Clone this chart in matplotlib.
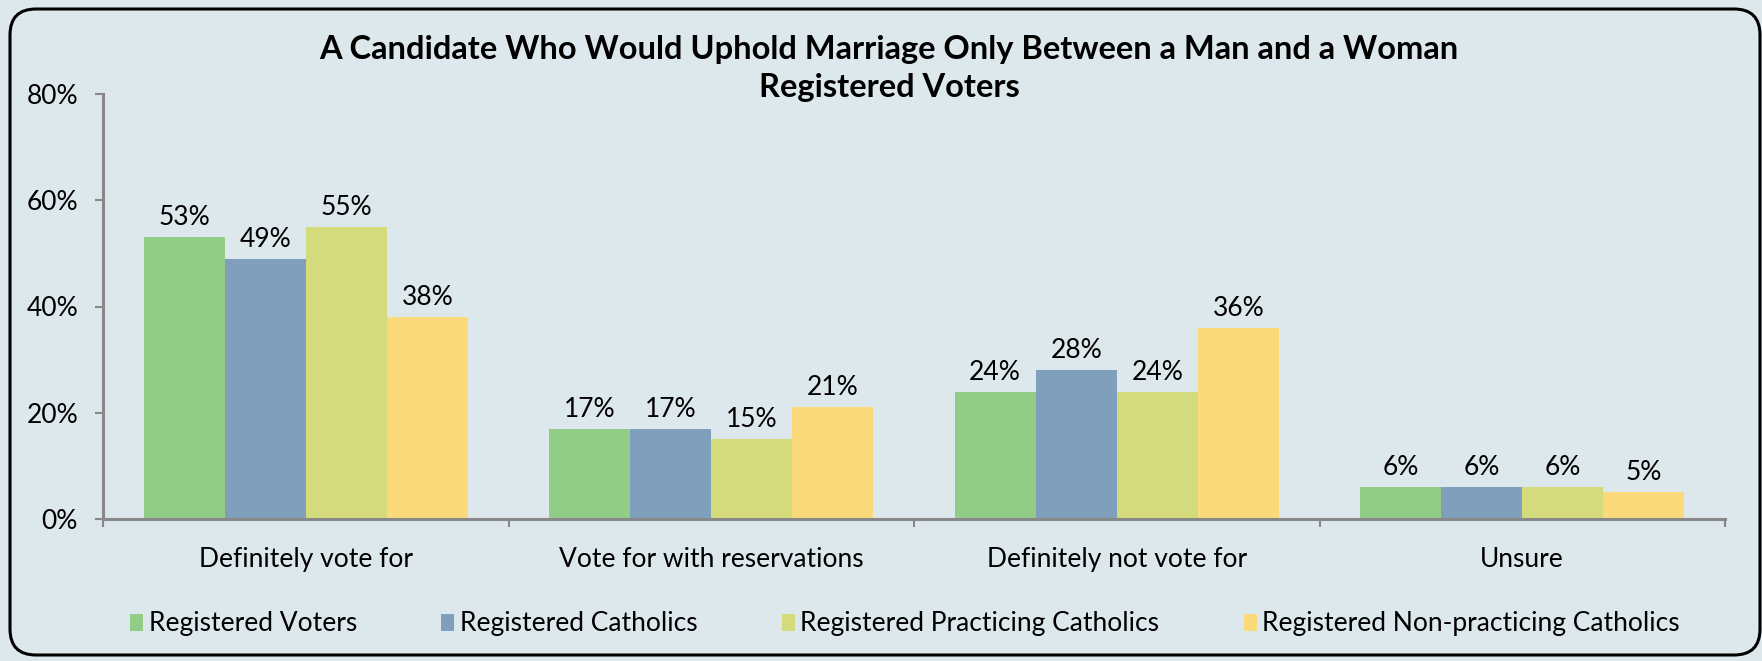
import matplotlib
matplotlib.use("Agg")
import matplotlib.pyplot as plt
from matplotlib.patches import FancyBboxPatch, Patch
import numpy as np

categories = ["Definitely vote for", "Vote for with reservations", "Definitely not vote for", "Unsure"]
series_names = ["Registered Voters", "Registered Catholics", "Registered Practicing Catholics",
                "Registered Non-practicing Catholics"]
voters = [53, 17, 24, 6]
catholics = [49, 17, 28, 6]
practicing = [55, 15, 24, 6]
non_practicing = [38, 21, 36, 5]
yticks = [0, 20, 40, 60, 80]
title_lines = ["A Candidate Who Would Uphold Marriage Only Between a Man and a Woman", "Registered Voters"]

colors = ["#92CD88", "#7F9FBC", "#D4DB7C", "#FADA7A"]
bg = "#DDE8EC"
FONT = ["Lato", "DejaVu Sans"]
plt.rcParams['font.family'] = FONT
FS = 19

W, H = 1762, 661
fig = plt.figure(figsize=(W / 100, H / 100), dpi=100, facecolor=bg)

# frame
fax = fig.add_axes([0, 0, 1, 1], zorder=-1)
fax.set_xlim(0, W)
fax.set_ylim(H, 0)
fax.axis("off")
fax.add_patch(FancyBboxPatch((10, 9), 1760 - 10, 655 - 9,
                             boxstyle="round,pad=0,rounding_size=26",
                             fill=False, edgecolor="black", linewidth=2.2))

ax = fig.add_axes([103 / W, 1 - 519 / H, (1725 - 103) / W, (519 - 94) / H])
ax.set_facecolor(bg)
ax.patch.set_alpha(0)

data = [voters, catholics, practicing, non_practicing]
x = np.arange(len(categories))
bw = 0.2
for i, (vals, c, name) in enumerate(zip(data, colors, series_names)):
    pos = x - 0.3 + i * bw
    bars = ax.bar(pos, vals, width=bw, color=c, label=name, zorder=2)
    for b, v in zip(bars, vals):
        ax.annotate(f"{v}%", (b.get_x() + b.get_width() / 2, v), xytext=(0, 5),
                    textcoords="offset points", ha="center", va="bottom", fontsize=FS)

ax.set_xlim(-0.5, len(categories) - 0.5)
ax.set_ylim(0, 80)
ax.set_yticks(yticks)
ax.set_yticklabels([f"{t}%" for t in yticks], fontsize=FS)
ax.tick_params(axis="y", length=6, width=1.5, color="#888888", pad=12, direction="out")

ax.set_xticks(np.arange(len(categories) + 1) - 0.5)
ax.set_xticklabels([])
ax.tick_params(axis="x", which="major", length=6, width=1.5, color="#888888", direction="out")
ax.set_xticks(x, minor=True)
ax.set_xticklabels(categories, minor=True, fontsize=FS)
ax.tick_params(axis="x", which="minor", length=0, pad=20)

for s in ["top", "right"]:
    ax.spines[s].set_visible(False)
for s in ["left", "bottom"]:
    ax.spines[s].set_color("#888888")
    ax.spines[s].set_linewidth(2.2)

fig.text(889 / W, 1 - 50 / H, title_lines[0], ha="center", va="center", fontsize=23.5, fontweight="bold")
fig.text(889 / W, 1 - 88 / H, title_lines[1], ha="center", va="center", fontsize=23.5, fontweight="bold")

handles = [Patch(facecolor=c, edgecolor="none") for c in colors]
leg = fig.legend(handles, series_names, loc="center", bbox_to_anchor=(905 / W, 1 - 624 / H),
                 ncol=4, frameon=False, fontsize=FS, handlelength=0.5, handleheight=0.6,
                 handletextpad=0.2, columnspacing=3.2)

fig.savefig("out.png", dpi=100, facecolor=bg)
